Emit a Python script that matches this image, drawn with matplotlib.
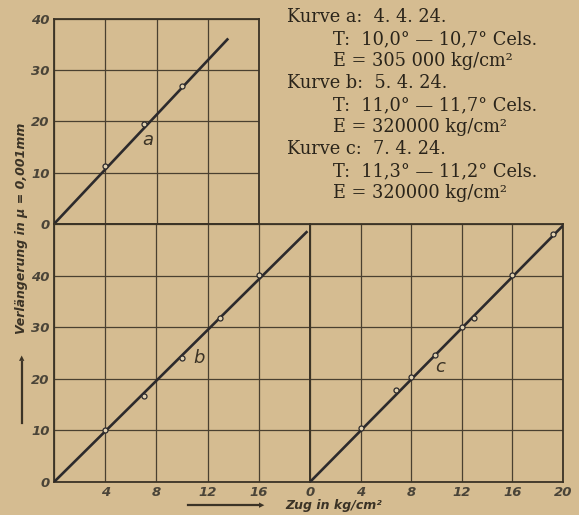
import matplotlib.pyplot as plt

# figure size in pixels
W, H = 579, 515

# curve a (upper panel)
a_line_x = [0, 13.6]
a_line_y = [0, 36.2]
a_pts_x = [4, 7, 10]
a_pts_y = [11.3, 19.6, 27.0]

# curve b (lower left)
b_line_x = [0, 19.8]
b_line_y = [0, 48.6]
b_pts_x = [4, 7, 10, 13, 16]
b_pts_y = [10.0, 16.7, 24.1, 31.8, 40.2]

# curve c (lower right)
c_line_x = [0, 20]
c_line_y = [0, 49.7]
c_pts_x = [4, 6.8, 8, 9.9, 12, 13, 16, 19.2]
c_pts_y = [10.5, 17.9, 20.4, 24.7, 30.0, 31.8, 40.2, 48.0]

a_xticks = [0, 4, 8, 12, 16]
a_yticks = [0, 10, 20, 30, 40]
low_xticks = [0, 4, 8, 12, 16, 20]
low_yticks = [0, 10, 20, 30, 40, 50]
b_xlabels = ['', '4', '8', '12', '16', '']
c_xlabels = ['0', '4', '8', '12', '16', '20']
low_ylabels = ['0', '10', '20', '30', '40', '']

info_lines = [
    (287, 17, 'Kurve a:  4. 4. 24.'),
    (333, 39, 'T:  10,0° — 10,7° Cels.'),
    (333, 61, 'E = 305 000 kg/cm²'),
    (287, 83, 'Kurve b:  5. 4. 24.'),
    (333, 105, 'T:  11,0° — 11,7° Cels.'),
    (333, 127, 'E = 320000 kg/cm²'),
    (287, 149, 'Kurve c:  7. 4. 24.'),
    (333, 171, 'T:  11,3° — 11,2° Cels.'),
    (333, 193, 'E = 320000 kg/cm²'),
]

bg = '#d5bc91'
ink = '#3b3326'
grid_col = '#4a4030'
line_col = '#2c2a2c'


def px_rect(left, top, right, bottom):
    return [left / W, 1 - bottom / H, (right - left) / W, (bottom - top) / H]


def fx(x):
    return x / W


def fy(y):
    return 1 - y / H


def style_axis(ax, xticks, xlabels, yticks, ylabels):
    ax.set_facecolor(bg)
    ax.set_xticks(xticks)
    ax.set_xticklabels(xlabels)
    ax.set_yticks(yticks)
    ax.set_yticklabels(ylabels)
    ax.set_xlim(xticks[0], xticks[-1])
    ax.set_ylim(yticks[0], yticks[-1])
    ax.grid(True, color=grid_col, linewidth=0.9)
    ax.tick_params(length=0, labelsize=9.5, labelcolor='#4a4438', pad=3)
    for lab in ax.get_xticklabels() + ax.get_yticklabels():
        lab.set_fontstyle('italic')
        lab.set_fontweight('bold')
    for sp in ax.spines.values():
        sp.set_color(ink)
        sp.set_linewidth(1.3)


def draw_curve(ax, lx, ly, px, py):
    ax.plot(lx, ly, color=line_col, linewidth=1.9, solid_capstyle='butt', zorder=3)
    ax.plot(px, py, 'o', markersize=3.6, markerfacecolor='#e2d2b0',
            markeredgecolor=line_col, markeredgewidth=0.9, zorder=4)


fig = plt.figure(figsize=(W / 100, H / 100), dpi=100, facecolor=bg)

ax_a = fig.add_axes(px_rect(54, 19, 259, 224))
ax_b = fig.add_axes(px_rect(54, 224, 310, 482))
ax_c = fig.add_axes(px_rect(310, 224, 563, 482))

style_axis(ax_a, a_xticks, [''] * len(a_xticks), a_yticks, [str(t) for t in a_yticks])
style_axis(ax_b, low_xticks, b_xlabels, low_yticks, low_ylabels)
style_axis(ax_c, low_xticks, c_xlabels, low_yticks, [''] * len(low_yticks))

draw_curve(ax_a, a_line_x, a_line_y, a_pts_x, a_pts_y)
draw_curve(ax_b, b_line_x, b_line_y, b_pts_x, b_pts_y)
draw_curve(ax_c, c_line_x, c_line_y, c_pts_x, c_pts_y)

ax_a.text(7.3, 16.4, 'a', fontsize=13, style='italic', color=ink, ha='center', va='center')
ax_b.text(11.3, 24.0, 'b', fontsize=13, style='italic', color=ink, ha='center', va='center')
ax_c.text(10.3, 22.3, 'c', fontsize=13, style='italic', color=ink, ha='center', va='center')

# info block
for x, y, s in info_lines:
    fig.text(fx(x), fy(y), s, fontsize=12.8, family='DejaVu Serif',
             color='#2a241a', ha='left', va='center')

# y axis title and arrow
fig.text(fx(22), fy(228), 'Verlängerung in μ = 0,001mm', rotation=90,
         fontsize=9, style='italic', fontweight='bold', color=ink,
         ha='center', va='center')
fig.add_artist(plt.Line2D([fx(22), fx(22)], [fy(423), fy(362)], color=ink, linewidth=1.6))
fig.text(fx(22), fy(358), '▲', fontsize=5, color=ink, ha='center', va='center')

# x axis title and arrow
fig.text(fx(285), fy(506), 'Zug in kg/cm²', fontsize=9, style='italic',
         fontweight='bold', color=ink, ha='left', va='center')
fig.add_artist(plt.Line2D([fx(188), fx(258)], [fy(505), fy(505)], color=ink, linewidth=1.6))
fig.text(fx(262), fy(505), '▶', fontsize=5, color=ink, ha='center', va='center')

fig.savefig('out.png', dpi=100, facecolor=bg)
